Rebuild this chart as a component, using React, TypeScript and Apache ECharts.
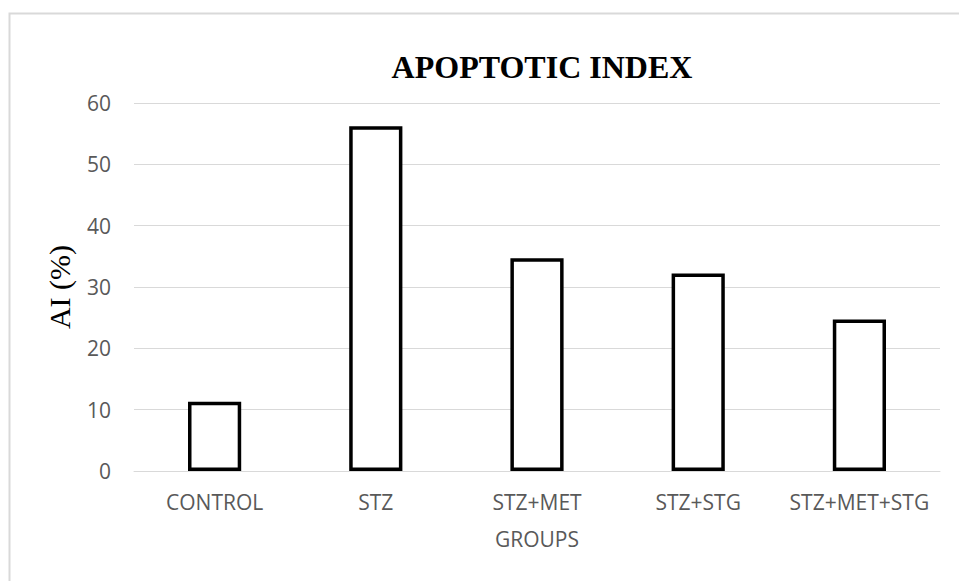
import React, { useEffect, useRef } from "react";
import * as echarts from "echarts";

const categories = ["CONTROL", "STZ", "STZ+MET", "STZ+STG", "STZ+MET+STG"];
const values = [11.3, 56.2, 34.7, 32.2, 24.7];
const titleText = "APOPTOTIC INDEX";
const yAxisTitle = "AI (%)";
const xAxisTitle = "GROUPS";

export default function App() {
  const ref = useRef<HTMLDivElement>(null);
  useEffect(() => {
    if (!ref.current) return;
    const chart = echarts.init(ref.current, undefined, { renderer: "svg" });
    const labelFont = "'Open Sans', sans-serif";
    chart.setOption({
      animation: false,
      backgroundColor: "#ffffff",
      title: {
        text: titleText,
        left: 537,
        top: 46,
        textAlign: "center",
        textStyle: {
          fontFamily: "'Liberation Serif', serif",
          fontWeight: "bold",
          fontSize: 32,
          color: "#000000",
        },
      },
      graphic: [
        {
          type: "rect",
          shape: { x: 9.5, y: 13.5, width: 1200, height: 1200 },
          style: { fill: "none", stroke: "#d9d9d9", lineWidth: 2 },
          silent: true,
          z: -1,
        },
      ],
      grid: { left: 134, right: 19, top: 103, bottom: 110 },
      xAxis: {
        type: "category",
        data: categories,
        name: xAxisTitle,
        nameLocation: "middle",
        nameGap: 57,
        nameTextStyle: { fontFamily: labelFont, fontSize: 21, color: "#595959" },
        axisLine: { lineStyle: { color: "#d9d9d9", width: 1 } },
        axisTick: { show: false },
        axisLabel: {
          interval: 0,
          hideOverlap: false,
          fontFamily: labelFont,
          fontSize: 21,
          color: "#595959",
          margin: 20,
        },
      },
      yAxis: {
        type: "value",
        min: 0,
        max: 60,
        interval: 10,
        name: yAxisTitle,
        nameLocation: "middle",
        nameGap: 60,
        nameTextStyle: { fontFamily: "'Liberation Serif', serif", fontSize: 30, color: "#000000" },
        axisLine: { show: false },
        axisTick: { show: false },
        splitLine: { lineStyle: { color: "#d9d9d9", width: 1 } },
        axisLabel: { fontFamily: labelFont, fontSize: 21, color: "#595959", margin: 23 },
      },
      series: [
        {
          type: "bar",
          data: values,
          barWidth: "33%",
          itemStyle: { color: "#ffffff", borderColor: "#000000", borderWidth: 3.5 },
        },
      ],
    });
    return () => chart.dispose();
  }, []);
  return (
    <div
      ref={ref}
      style={{ position: "fixed", left: 0, top: 0, width: 959, height: 581 }}
    />
  );
}
